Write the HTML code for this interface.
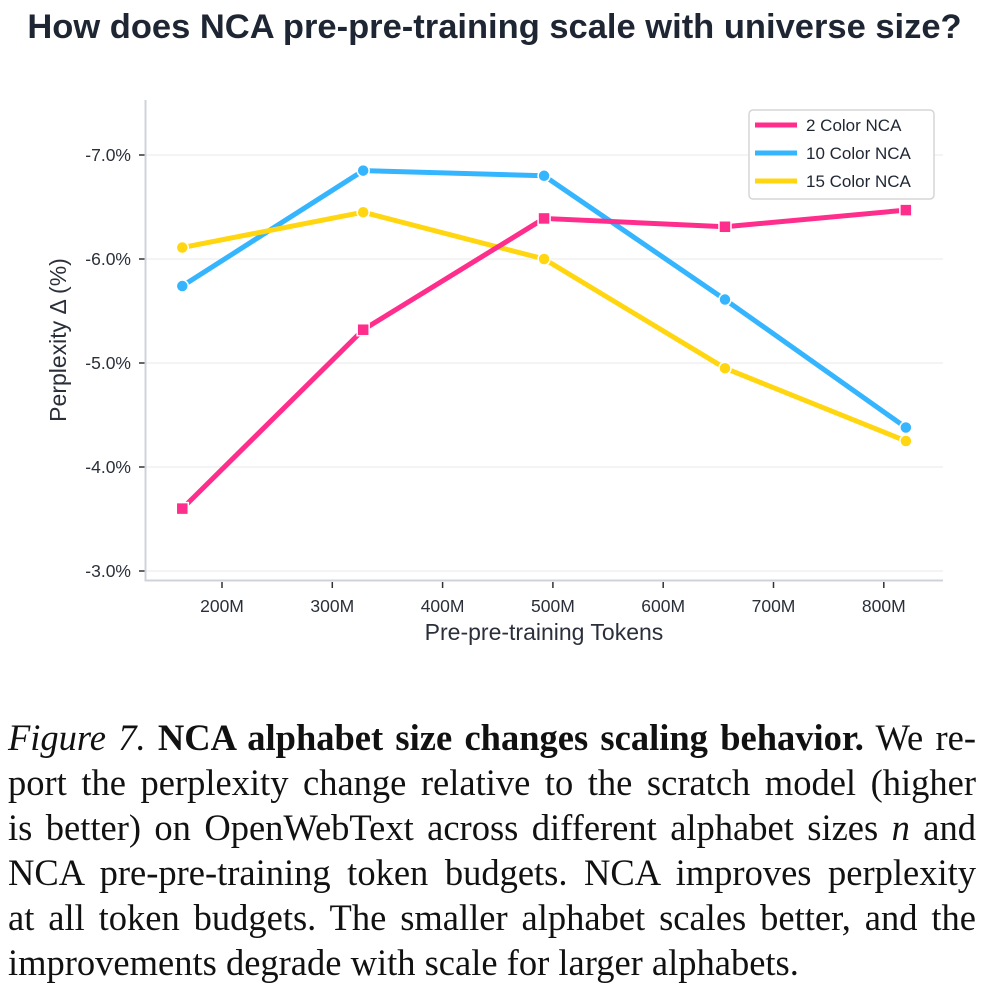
<!DOCTYPE html>
<html><head><meta charset="utf-8"><style>
body{margin:0;background:#fff;width:983px;height:986px;overflow:hidden;position:relative}
#title{position:absolute;left:3px;top:8px;width:983px;text-align:center;font:bold 34.5px "Liberation Sans",sans-serif;color:#1f2633;white-space:nowrap}
#cap{position:absolute;left:8px;top:715px;width:968px;font:36.5px "Liberation Serif",serif;color:#111;line-height:45px}
#cap div{text-align:justify;text-align-last:justify;white-space:nowrap}
#cap div.last{text-align-last:left}
svg{position:absolute;left:0;top:0}
</style></head><body>
<div id="title">How does NCA pre-pre-training scale with universe size?</div>
<svg id="chart" width="983" height="700" font-family="Liberation Sans, sans-serif"></svg>
<div id="cap">
<div><i>Figure 7.</i> <b>NCA alphabet size changes scaling behavior.</b> We re-</div>
<div>port the perplexity change relative to the scratch model (higher</div>
<div>is better) on OpenWebText across different alphabet sizes <i>n</i> and</div>
<div>NCA pre-pre-training token budgets. NCA improves perplexity</div>
<div>at all token budgets. The smaller alphabet scales better, and the</div>
<div class="last">improvements degrade with scale for larger alphabets.</div>
</div>
<script>
const tokens=[164,328,492,656,820];
const s2=[3.6,5.32,6.39,6.31,6.47];
const s10=[5.74,6.85,6.80,5.61,4.38];
const s15=[6.11,6.45,6.0,4.95,4.25];
const yTicks=[3,4,5,6,7];
const yTickLabels=["-3.0%","-4.0%","-5.0%","-6.0%","-7.0%"];
const xTicks=[200,300,400,500,600,700,800];
const xTickLabels=["200M","300M","400M","500M","600M","700M","800M"];
const NS="http://www.w3.org/2000/svg";
const svg=document.getElementById('chart');
const X=v=>222+(v-200)*1.103;
const Y=v=>571-(v-3)*104;
function mk(t,a,p){const e=document.createElementNS(NS,t);for(const k in a)e.setAttribute(k,a[k]);(p||svg).appendChild(e);return e;}
yTicks.forEach((v,i)=>{
 const g=mk('line',{x1:146,x2:943,y1:Y(v),y2:Y(v),stroke:'#f0f0f0','stroke-width':1.5});
 
 
 mk('line',{x1:139,x2:145,y1:Y(v),y2:Y(v),stroke:'#333','stroke-width':1.5});
 const t=mk('text',{x:131,y:Y(v)+6,'text-anchor':'end','font-size':17.5,fill:'#2a2f3a'});
 t.textContent=yTickLabels[i];
 
 
});
xTicks.forEach((v,i)=>{
 mk('line',{x1:X(v),x2:X(v),y1:582,y2:588,stroke:'#333','stroke-width':1.5});
 const t=mk('text',{x:X(v),y:612,'text-anchor':'middle','font-size':17.5,fill:'#2a2f3a'});
 t.textContent=xTickLabels[i];
 
 
});
const sp=mk('path',{d:'M145.5 100 V580.5 H943',fill:'none',stroke:'#cfd3d8','stroke-width':2});


const xt=mk('text',{x:544,y:640,'text-anchor':'middle','font-size':23,fill:'#2a2f3a'});
xt.textContent='Pre-pre-training Tokens';


const yt=mk('text',{x:0,y:0,'text-anchor':'middle','font-size':23,fill:'#2a2f3a',transform:'translate(66,340) rotate(-90)'});
yt.textContent='Perplexity Δ (%)';


const series=[[s2,'#ff2e8c','square','2-color'],[s10,'#36b5ff','circle','10-color'],[s15,'#ffd60f','circle','15-color']];
[series[1],series[2],series[0]].forEach(([vals,col,shape,nm])=>{
 const pl=mk('polyline',{points:vals.map((v,i)=>X(tokens[i])+','+Y(v)).join(' '),fill:'none',stroke:col,'stroke-width':5,'stroke-linejoin':'round'});
 
 
 vals.forEach((v,i)=>{
  let m;
  if(shape==='square')m=mk('rect',{x:X(tokens[i])-6,y:Y(v)-6,width:12,height:12,fill:col,stroke:'#fff','stroke-width':1.5});
  else m=mk('circle',{cx:X(tokens[i]),cy:Y(v),r:6,fill:col,stroke:'#fff','stroke-width':1.5});
  
  
 });
});
const lg=mk('g',{});


mk('rect',{x:749,y:110,width:185,height:89,rx:4,fill:'#fff',stroke:'#d6d6d6','stroke-width':1.5},lg);
[['2 Color NCA','#ff2e8c'],['10 Color NCA','#36b5ff'],['15 Color NCA','#ffd60f']].forEach(([l,c],i)=>{
 const y=125+i*28;
 const e=mk('g',{},lg);
 
 
 mk('line',{x1:755,x2:797,y1:y,y2:y,stroke:c,'stroke-width':5},e);
 const t=mk('text',{x:806,y:y+6,'font-size':17,fill:'#1f2633'},e);
 t.textContent=l;
});
</script>
</body></html>
